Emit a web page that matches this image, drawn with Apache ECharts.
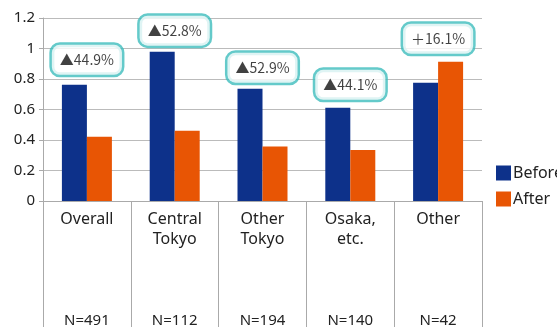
<!DOCTYPE html>
<html><head><meta charset="utf-8">
<script src="https://cdn.jsdelivr.net/npm/echarts@6/dist/echarts.min.js"></script>
<style>html,body{margin:0;padding:0;background:#fff}#c{width:557px;height:327px}</style>
</head><body><div id="c"></div>
<script>
const categories = ['Overall', 'Central\nTokyo', 'Other\nTokyo', 'Osaka,\netc.', 'Other'];
const sampleSizes = ['N=491', 'N=112', 'N=194', 'N=140', 'N=42'];
const beforeValues = [0.762, 0.979, 0.736, 0.611, 0.775];
const afterValues = [0.422, 0.460, 0.357, 0.335, 0.913];
const changeLabels = ['▲44.9%', '▲52.8%', '▲52.9%', '▲44.1%', '＋16.1%'];
const changeLabelY = [0.926, 1.117, 0.874, 0.762, 1.064];
const yTicks = { min: 0, max: 1.2, interval: 0.2 };

const FONT = 'Noto Sans';
const chart = echarts.init(document.getElementById('c'), null, { renderer: 'canvas' });
chart.setOption({
  animation: false,
  textStyle: { fontFamily: FONT },
  grid: { left: 43, right: 75, top: 18, bottom: 126, containLabel: false, outerBoundsMode: 'none' },
  legend: {
    data: ['Before', 'After'],
    orient: 'vertical', left: 491, top: 160,
    itemWidth: 15, itemHeight: 15, itemGap: 10, icon: 'rect',
    textStyle: { fontSize: 16, color: '#222', fontFamily: FONT, padding: [0, 0, 0, -3] }
  },
  xAxis: [{
    type: 'category', data: categories, position: 'bottom',
    axisLine: { show: true, lineStyle: { color: '#aaa', width: 1 } },
    axisTick: { show: true, length: 130, lineStyle: { color: '#aaa' } },
    axisLabel: { fontSize: 16, color: '#222', margin: 8, lineHeight: 20, fontFamily: FONT }
  }, {
    type: 'category', data: categories, position: 'bottom',
    axisLine: { show: false }, axisTick: { show: false },
    axisLabel: { fontSize: 15, color: '#222', margin: 110, lineHeight: 20, fontFamily: FONT,
      formatter: (v, i) => sampleSizes[i] }
  }],
  yAxis: {
    type: 'value', min: yTicks.min, max: yTicks.max, interval: yTicks.interval,
    axisLine: { show: true, lineStyle: { color: '#aaa' } },
    axisTick: { show: true, length: 4, lineStyle: { color: '#aaa' } },
    splitLine: { lineStyle: { color: '#bbb', width: 1 } },
    axisLabel: { fontSize: 15, color: '#222', margin: 8, fontFamily: FONT }
  },
  series: [{
    name: 'Before', type: 'bar', data: beforeValues, barWidth: 25, barGap: '0%',
    itemStyle: { color: '#0d318a' }
  }, {
    name: 'After', type: 'bar', data: afterValues, barWidth: 25, barGap: '0%',
    itemStyle: { color: '#e85504' }
  }, {
    name: 'change', type: 'scatter', symbolSize: 0, z: 10,
    data: changeLabelY.map((y, i) => [i, y]),
    label: {
      show: true, position: 'inside',
      formatter: p => changeLabels[p.dataIndex],
      fontSize: 14, color: '#111', fontFamily: 'Noto Sans CJK JP', lineHeight: 18,
      backgroundColor: '#fff', borderColor: '#3dbdbd', borderWidth: 2.5, borderRadius: 8,
      padding: [6, 8]
    }
  }]
});
</script></body></html>
